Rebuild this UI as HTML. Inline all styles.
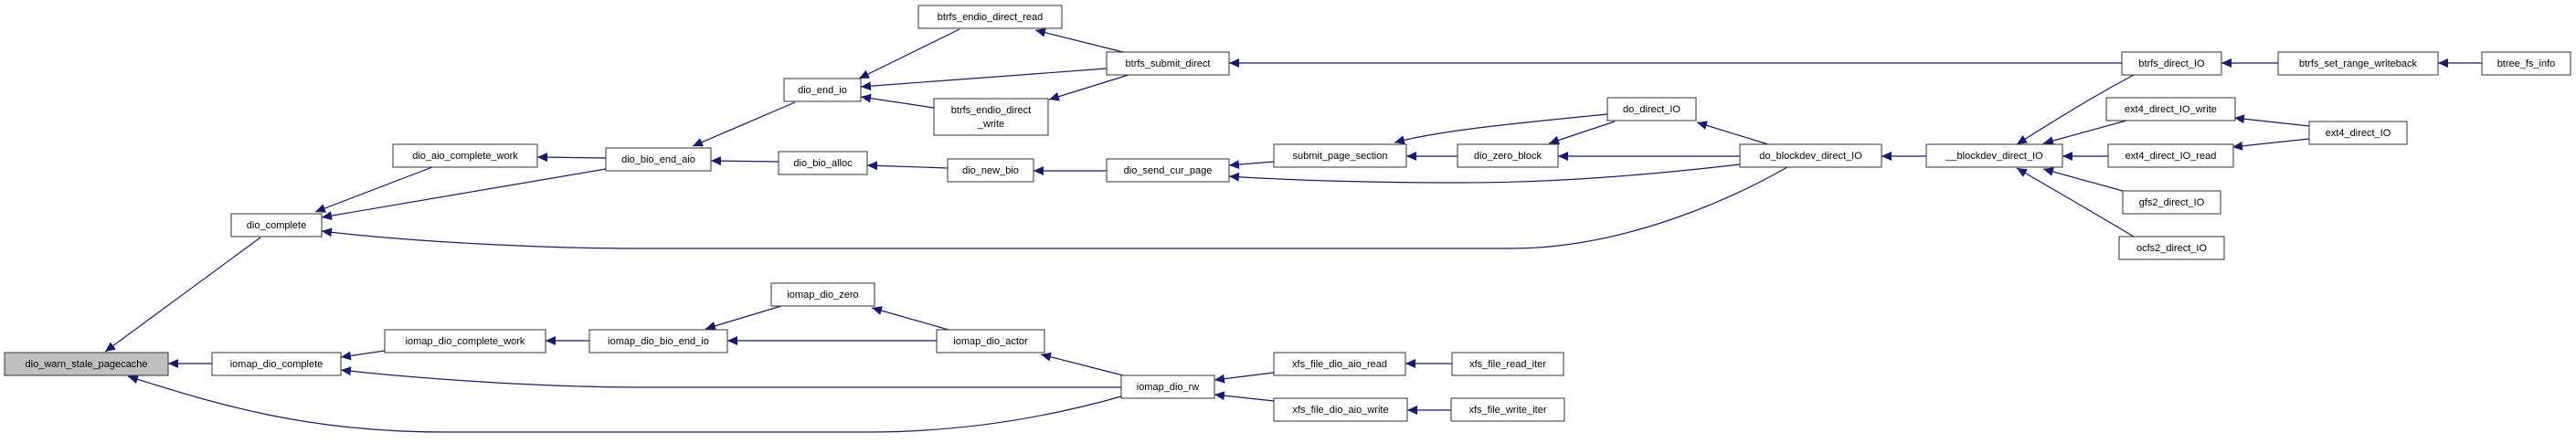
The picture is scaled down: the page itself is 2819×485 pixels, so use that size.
<!DOCTYPE html>
<html><head><meta charset="utf-8"><style>
html,body{margin:0;padding:0;background:#fff;}
svg text{font-family:"Liberation Sans",sans-serif;font-size:11px;fill:#000;}
</style></head><body>
<svg width="2819" height="480" viewBox="0 0 2819 480" xmlns="http://www.w3.org/2000/svg">
<defs>
<marker id="a" markerUnits="userSpaceOnUse" markerWidth="12" markerHeight="10" refX="11" refY="5" orient="auto">
<path d="M0,0 L11,5 L0,10 Z" fill="#191970"/>
</marker>
</defs>
<g fill="none" stroke="#191970" stroke-width="1.2" marker-end="url(#a)">
<path d="M285,260 L115,385"/>
<path d="M232,398 L184,398"/>
<path d="M1227,434 C1100,470 1000,473 950,473 L485,473 C330,473 230,440 140,412"/>
<path d="M473,183 L345,232"/>
<path d="M663,185 L352,238"/>
<path d="M1956,183 C1900,215 1780,272 1653,272 L697,272 C600,272 450,265 352,253"/>
<path d="M663,173 L588,172"/>
<path d="M870,112 L758,160"/>
<path d="M852,177 L778,176"/>
<path d="M1050,32 L940,86"/>
<path d="M1211,75 L942,95"/>
<path d="M1022,118 L942,106"/>
<path d="M1229,57 L1133,33"/>
<path d="M1235,82 L1148,109"/>
<path d="M2322,69 L1345,69"/>
<path d="M1037,184 L949,181"/>
<path d="M1211,187 L1131,187"/>
<path d="M1394,177 L1345,181"/>
<path d="M1904,180 C1800,192 1700,200 1600,200 C1500,200 1420,198 1345,193"/>
<path d="M1595,171 L1539,171"/>
<path d="M1759,125 C1660,135 1580,142 1526,156"/>
<path d="M1767,133 L1695,157"/>
<path d="M1904,171 L1705,171"/>
<path d="M1935,158 L1857,134"/>
<path d="M2108,171 L2059,171"/>
<path d="M2335,82 C2305,98 2275,115 2207,158"/>
<path d="M2327,132 L2236,157"/>
<path d="M2307,171 L2257,171"/>
<path d="M2323,209 L2236,185"/>
<path d="M2335,259 C2300,238 2260,215 2207,184"/>
<path d="M2493,69 L2431,69"/>
<path d="M2716,69 L2668,69"/>
<path d="M2527,138 L2445,129"/>
<path d="M2527,152 L2443,161"/>
<path d="M421,384 L373,391"/>
<path d="M1227,424 L950,424 L697,424 C600,424 460,415 373,405"/>
<path d="M645,373 L597,373"/>
<path d="M855,335 L772,360"/>
<path d="M1025,373 L796,373"/>
<path d="M1038,361 L954,337"/>
<path d="M1229,411 L1139,388"/>
<path d="M1394,408 L1329,416"/>
<path d="M1394,439 L1329,432"/>
<path d="M1589,398 L1538,398"/>
<path d="M1588,449 L1540,449"/>
</g>
<g stroke="#333" stroke-width="1" fill="#fff">
<rect x="5" y="386" width="179" height="25" fill="#bfbfbf"/>
<rect x="253" y="234" width="99" height="25"/>
<rect x="232" y="386" width="141" height="25"/>
<rect x="430" y="158" width="158" height="25"/>
<rect x="421" y="361" width="176" height="25"/>
<rect x="663" y="162" width="115" height="25"/>
<rect x="645" y="361" width="151" height="25"/>
<rect x="858" y="86" width="84" height="25"/>
<rect x="852" y="166" width="97" height="25"/>
<rect x="844" y="310" width="113" height="25"/>
<rect x="1005" y="6" width="157" height="25"/>
<rect x="1211" y="57" width="134" height="25"/>
<rect x="1022" y="108" width="125" height="40"/>
<rect x="1037" y="174" width="94" height="25"/>
<rect x="1211" y="174" width="134" height="25"/>
<rect x="1394" y="158" width="145" height="25"/>
<rect x="1595" y="158" width="110" height="25"/>
<rect x="1759" y="107" width="97" height="25"/>
<rect x="1025" y="361" width="118" height="25"/>
<rect x="1227" y="411" width="102" height="25"/>
<rect x="1394" y="386" width="144" height="25"/>
<rect x="1394" y="436" width="146" height="25"/>
<rect x="1589" y="386" width="122" height="25"/>
<rect x="1588" y="436" width="124" height="25"/>
<rect x="1904" y="158" width="155" height="25"/>
<rect x="2108" y="158" width="149" height="25"/>
<rect x="2322" y="57" width="109" height="25"/>
<rect x="2493" y="57" width="175" height="25"/>
<rect x="2716" y="57" width="97" height="25"/>
<rect x="2305" y="107" width="141" height="25"/>
<rect x="2527" y="133" width="107" height="25"/>
<rect x="2307" y="158" width="137" height="25"/>
<rect x="2323" y="209" width="107" height="25"/>
<rect x="2319" y="259" width="115" height="25"/>
</g>
<g text-anchor="middle">
<text x="94.5" y="402">dio_warn_stale_pagecache</text>
<text x="302.5" y="250">dio_complete</text>
<text x="302.5" y="402">iomap_dio_complete</text>
<text x="509" y="174">dio_aio_complete_work</text>
<text x="509" y="377">iomap_dio_complete_work</text>
<text x="720.5" y="178">dio_bio_end_aio</text>
<text x="720.5" y="377">iomap_dio_bio_end_io</text>
<text x="900" y="102">dio_end_io</text>
<text x="900.5" y="182">dio_bio_alloc</text>
<text x="900.5" y="326">iomap_dio_zero</text>
<text x="1083.5" y="22">btrfs_endio_direct_read</text>
<text x="1278" y="73">btrfs_submit_direct</text>
<text x="1084.5" y="124">btrfs_endio_direct</text>
<text x="1084.5" y="139">_write</text>
<text x="1084" y="190">dio_new_bio</text>
<text x="1278" y="190">dio_send_cur_page</text>
<text x="1466.5" y="174">submit_page_section</text>
<text x="1650" y="174">dio_zero_block</text>
<text x="1807.5" y="123">do_direct_IO</text>
<text x="1084" y="377">iomap_dio_actor</text>
<text x="1278" y="427">iomap_dio_rw</text>
<text x="1466" y="402">xfs_file_dio_aio_read</text>
<text x="1467" y="452">xfs_file_dio_aio_write</text>
<text x="1650" y="402">xfs_file_read_iter</text>
<text x="1650" y="452">xfs_file_write_iter</text>
<text x="1981.5" y="174">do_blockdev_direct_IO</text>
<text x="2182.5" y="174">__blockdev_direct_IO</text>
<text x="2376.5" y="73">btrfs_direct_IO</text>
<text x="2580.5" y="73">btrfs_set_range_writeback</text>
<text x="2764.5" y="73">btree_fs_info</text>
<text x="2375.5" y="123">ext4_direct_IO_write</text>
<text x="2580.5" y="149">ext4_direct_IO</text>
<text x="2375.5" y="174">ext4_direct_IO_read</text>
<text x="2376.5" y="225">gfs2_direct_IO</text>
<text x="2376.5" y="275">ocfs2_direct_IO</text>
</g>
</svg>
</body></html>
